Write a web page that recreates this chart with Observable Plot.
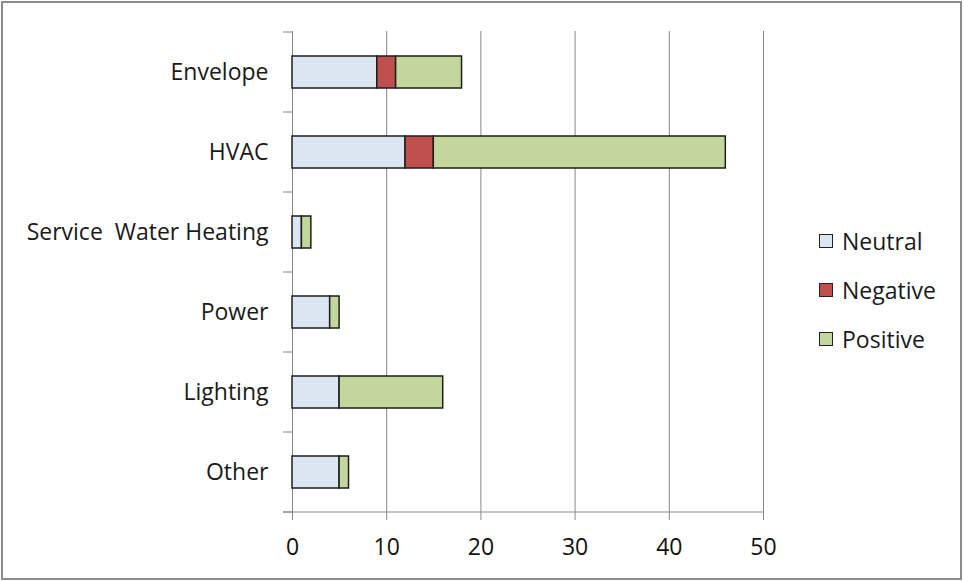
<!DOCTYPE html>
<html>
<head>
<meta charset="utf-8">
<script src="https://cdn.jsdelivr.net/npm/d3@7"></script>
<script src="https://cdn.jsdelivr.net/npm/@observablehq/plot@0.6"></script>
<style>
  html, body { margin: 0; padding: 0; background: #fff; }
  #wrap { position: relative; width: 964px; height: 581px; overflow: hidden; font-family: "Open Sans", Lato, sans-serif; }
  #wrap svg { position: absolute; left: 0; top: 0; }
  #border { position: absolute; left: 1px; top: 1px; width: 961px; height: 579px; box-sizing: border-box; border: 2px solid #8c8c8c; pointer-events: none; }
  #legend { position: absolute; left: 819px; top: 216px; font-size: 23px; color: #1a1a1a; }
  .item { display: flex; align-items: center; height: 49px; }
  .sw { width: 14px; height: 14px; border: 1px solid #222; margin-right: 9px; box-sizing: border-box; }
</style>
</head>
<body>
<div id="wrap"><div id="border"></div><div id="legend"></div></div>
<script>
const categories = ["Envelope", "HVAC", "Service  Water Heating", "Power", "Lighting", "Other"];
const seriesNames = ["Neutral", "Negative", "Positive"];
const neutral  = [9, 12, 1, 4, 5, 5];
const negative = [2, 3, 0, 0, 0, 0];
const positive = [7, 31, 1, 1, 11, 1];
const colors = ["#dce6f2", "#c0504d", "#c3d69b"];
const xTicks = [0, 10, 20, 30, 40, 50];

const seriesValues = [neutral, negative, positive];
const rows = categories.flatMap((c, i) =>
  seriesNames.map((s, j) => ({cat: c, series: s, value: seriesValues[j][i]}))
).filter(d => d.value > 0);

const gridColor = "#878787";

const chart = Plot.plot({
  width: 964,
  height: 581,
  marginLeft: 292,
  marginRight: 201,
  marginTop: 31,
  marginBottom: 69,
  style: {fontFamily: "'Open Sans', Lato, sans-serif", background: "transparent", color: "#1a1a1a"},
  x: {domain: [0, 50]},
  y: {domain: categories, paddingInner: 0.6, paddingOuter: 0.3},
  color: {domain: seriesNames, range: colors},
  marks: [
    Plot.gridX(xTicks.slice(1), {stroke: gridColor, strokeOpacity: 1}),
    Plot.ruleX([0], {stroke: gridColor}),
    Plot.axisX(xTicks, {tickSize: 8, stroke: gridColor, strokeOpacity: 1, fontSize: 23, tickPadding: 18, label: null, color: "#111"}),
    Plot.axisY({tickSize: 0, tickPadding: 24, fontSize: 23, label: null, color: "#1a1a1a"}),
    Plot.barX(rows, Plot.stackX({x: "value", y: "cat", fill: "series", stroke: "#1e1e1e", strokeWidth: 1.5}))
  ]
});

document.getElementById("wrap").prepend(chart);

// category separator ticks and x-axis baseline
const ys = chart.scale("y");
const xs = chart.scale("x");
const svg = d3.select(chart);
const g = svg.append("g").attr("stroke", gridColor).attr("stroke-width", 1);
const bounds = categories.map(c => ys.apply(c) - ys.step * 0.3);
bounds.push(bounds[bounds.length - 1] + ys.step);
const x0 = xs.apply(0);
bounds.forEach(b => g.append("line").attr("x1", x0 - 9).attr("x2", x0).attr("y1", b).attr("y2", b));
g.append("line").attr("x1", x0 - 9).attr("x2", xs.apply(50)).attr("y1", bounds[bounds.length - 1]).attr("y2", bounds[bounds.length - 1]);
svg.selectAll("text").style("white-space", "pre");

// legend
const legend = d3.select("#legend");
seriesNames.forEach((s, i) => {
  const it = legend.append("div").attr("class", "item");
  it.append("div").attr("class", "sw").style("background", colors[i]);
  it.append("span").text(s);
});
</script>
</body>
</html>
